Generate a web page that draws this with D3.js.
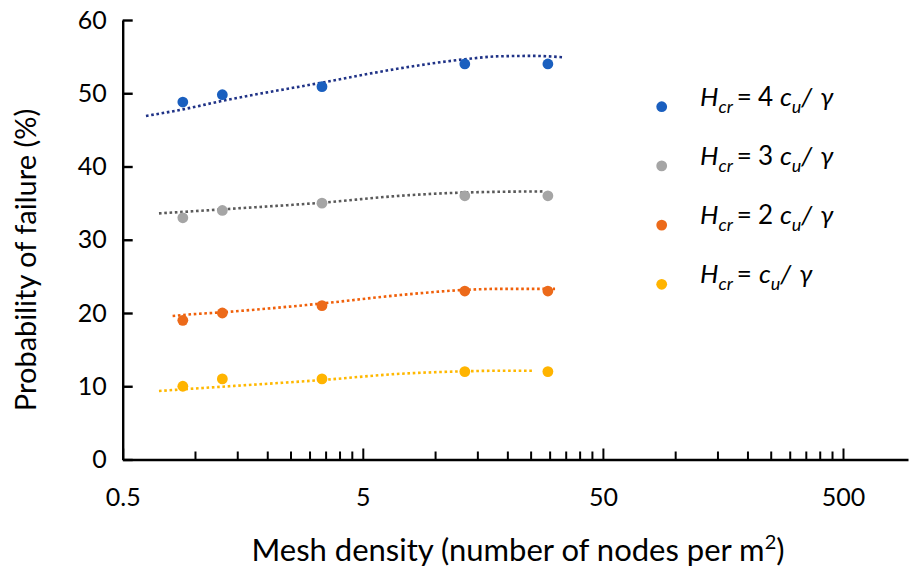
<!DOCTYPE html>
<html>
<head>
<meta charset="utf-8">
<script src="https://cdn.jsdelivr.net/npm/d3@7/dist/d3.min.js"></script>
<style>
  html, body { margin: 0; padding: 0; background: #fff; }
  svg { display: block; font-family: Lato, "Open Sans", sans-serif; }
</style>
</head>
<body>
<svg id="chart" width="911" height="575"></svg>
<script>
// Mesh densities (nodes per m²) used in the study
const densities = [0.89, 1.3, 3.38, 13.3, 29.5];

// Probability of failure (%) for each critical height
const pf4 = [48.8, 49.8, 50.9, 54, 54];
const pf3 = [33, 34, 35, 36, 36];
const pf2 = [19, 20, 21, 23, 23];
const pf1 = [10, 11, 11, 12, 12];

// Dotted trend curves, sampled at these densities
const trendX4 = [0.625, 0.89, 1.3, 3.38, 7.14, 13.3, 18.6, 25.6, 34.5];
const trendY4 = [46.9, 47.8, 48.96, 51.45, 53.4, 54.64, 55.05, 55.1, 54.9];
const trendX3 = [0.708, 0.89, 1.3, 3.38, 7.14, 13.3, 18.6, 28.5];
const trendY3 = [33.6, 33.8, 34.15, 35.06, 36.0, 36.45, 36.55, 36.6];
const trendX2 = [0.807, 0.89, 1.3, 3.38, 7.14, 13.3, 18.6, 31.6];
const trendY2 = [19.6, 19.73, 20.1, 21.3, 22.45, 23.15, 23.3, 23.3];
const trendX1 = [0.708, 0.89, 1.3, 3.38, 7.14, 13.3, 18.6, 25.6];
const trendY1 = [9.35, 9.58, 9.94, 10.85, 11.7, 12.04, 12.12, 12.12];

// Axis ticks
const xMajor = [0.5, 5, 50, 500];
const xMinorSteps = [2, 3, 4, 5, 6, 7, 8, 9]; // multiples of a half-decade step
const yTicks = [0, 10, 20, 30, 40, 50, 60];

// Legend multipliers
const legendMult = ["4", "3", "2", ""];

const series = [
  { values: pf4, tx: trendX4, ty: trendY4, dot: "#1a5fbf", line: "#1f3286", mult: legendMult[0] },
  { values: pf3, tx: trendX3, ty: trendY3, dot: "#a5a5a5", line: "#5a5a5a", mult: legendMult[1] },
  { values: pf2, tx: trendX2, ty: trendY2, dot: "#ec6a1a", line: "#f0600a", mult: legendMult[2] },
  { values: pf1, tx: trendX1, ty: trendY1, dot: "#ffb400", line: "#ffb800", mult: legendMult[3] }
];

const svg = d3.select("#chart");
const plotLeft = 122.7, plotRight = 908, plotTop = 20, plotBottom = 459.5;
const decadePx = 240.1;
const xMax = 0.5 * Math.pow(10, (plotRight - plotLeft) / decadePx);

const x = d3.scaleLog().domain([0.5, xMax]).range([plotLeft, plotRight]);
const y = d3.scaleLinear().domain([0, 60]).range([plotBottom, plotTop]);

// Trend curves
const trendLine = d3.line().x(d => x(d[0])).y(d => y(d[1])).curve(d3.curveMonotoneX);
series.forEach(s => {
  svg.append("path")
    .attr("d", trendLine(s.tx.map((v, i) => [v, s.ty[i]])))
    .attr("fill", "none")
    .attr("stroke", s.line)
    .attr("stroke-width", 2.6)
    .attr("stroke-dasharray", "2.6 2.7");
});

// Data points
series.forEach(s => {
  svg.append("g").selectAll("circle")
    .data(densities.map((d, i) => [d, s.values[i]]))
    .join("circle")
    .attr("cx", d => x(d[0]))
    .attr("cy", d => y(d[1]))
    .attr("r", 5.4)
    .attr("fill", s.dot);
});

// X axis: minor ticks at half-unit steps, then major ticks with labels
const xMinor = [];
xMajor.forEach(m => xMinorSteps.forEach(k => { const v = m * k; if (v < xMax && !xMajor.includes(v)) xMinor.push(v); }));
svg.append("g")
  .attr("transform", `translate(0,${plotBottom})`)
  .call(d3.axisBottom(x).tickValues(xMinor).tickSizeInner(-8).tickSizeOuter(0).tickFormat(""))
  .call(g => g.select(".domain").remove())
  .call(g => g.selectAll("line").attr("stroke", "#000").attr("stroke-width", 2));
const xAxis = svg.append("g")
  .attr("transform", `translate(0,${plotBottom})`)
  .call(d3.axisBottom(x).tickValues(xMajor).tickSizeInner(-11).tickSizeOuter(0)
    .tickPadding(29).tickFormat(d => String(d)));
xAxis.select(".domain").attr("stroke", "#000").attr("stroke-width", 2.4);
xAxis.selectAll("line").attr("stroke", "#000").attr("stroke-width", 2);
xAxis.selectAll("text").attr("font-size", 25).attr("fill", "#000")
  .attr("font-family", "Lato, sans-serif");

// Y axis
const yAxis = svg.append("g")
  .attr("transform", `translate(${plotLeft},0)`)
  .call(d3.axisLeft(y).tickValues(yTicks).tickSizeInner(-10).tickSizeOuter(0).tickPadding(16));
yAxis.select(".domain").attr("stroke", "#000").attr("stroke-width", 2.4);
yAxis.selectAll("line").attr("stroke", "#000").attr("stroke-width", 2.4);
yAxis.selectAll("text").attr("font-size", 25).attr("fill", "#000")
  .attr("font-family", "Lato, sans-serif");

// Axis titles
const xt = svg.append("text")
  .attr("x", 518).attr("y", 561)
  .attr("text-anchor", "middle")
  .attr("font-size", 31).attr("fill", "#000");
xt.append("tspan").text("Mesh density (number of nodes per m");
xt.append("tspan").attr("dy", -12).attr("font-size", 20).text("2");
xt.append("tspan").attr("dy", 12).text(")");

svg.append("text")
  .attr("transform", "translate(36,260) rotate(-90)")
  .attr("text-anchor", "middle")
  .attr("font-size", 29).attr("fill", "#000")
  .text("Probability of failure (%)");

// Legend
const legend = svg.append("g");
series.forEach((s, i) => {
  const ly = 106.7 + i * 59.2;
  legend.append("circle").attr("cx", 661.7).attr("cy", ly).attr("r", 5.4).attr("fill", s.dot);
  const t = legend.append("text")
    .attr("x", 700).attr("y", ly - 1)
    .attr("font-size", 26).attr("fill", "#000");
  t.append("tspan").attr("font-style", "italic").text("H");
  t.append("tspan").attr("font-style", "italic").attr("font-size", 18).attr("dy", 7).text("cr");
  t.append("tspan").attr("dy", -7).attr("dx", 4).text("=");
  if (s.mult) t.append("tspan").attr("dx", 6).text(s.mult);
  t.append("tspan").attr("dx", 7).attr("font-style", "italic").text("c");
  t.append("tspan").attr("font-style", "italic").attr("font-size", 18).attr("dy", 7).text("u");
  t.append("tspan").attr("dy", -7).attr("font-style", "italic").text("/");
  t.append("tspan").attr("dx", 8).attr("font-style", "italic").text("γ");
});
</script>
</body>
</html>
